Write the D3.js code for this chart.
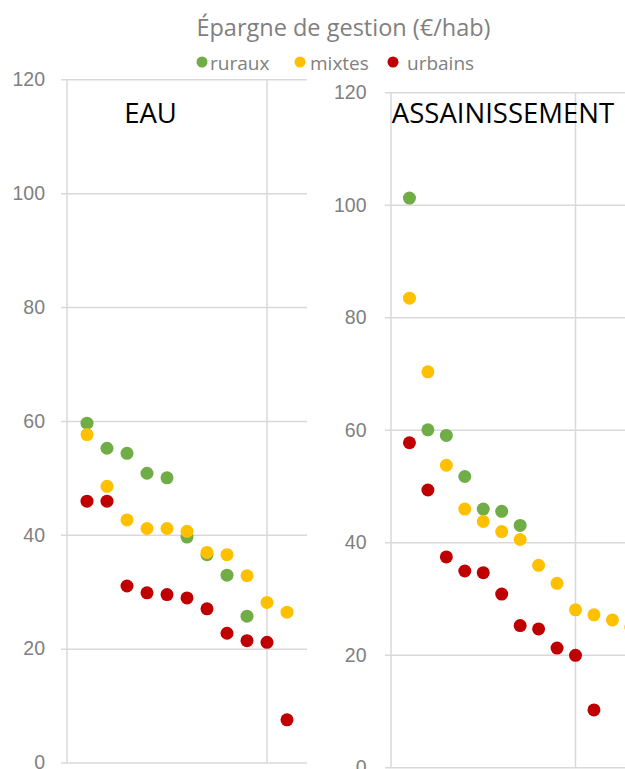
<!DOCTYPE html>
<html>
<head>
<meta charset="utf-8">
<script src="https://cdn.jsdelivr.net/npm/d3@7"></script>
<style>
    body { margin: 0; background: #fff; }
    svg { display: block; font-family: "Open Sans", sans-serif; }
    .grid line, .domain { stroke: #d9d9d9; stroke-width: 1.5; }
    .tick text { fill: #808080; font-size: 19.5px; }
</style>
</head>
<body>
<svg id="chart" width="625" height="769"></svg>
<script>
/* ---------------------------- DATA ---------------------------- */

let chartTitle = "Épargne de gestion (€/hab)"
let seriesNames = ["ruraux", "mixtes", "urbains"]
let seriesColors = ["#70ad47", "#ffc000", "#c00000"]
let yTicks = [0, 20, 40, 60, 80, 100, 120]
let xGrid = [0, 10]

// EAU - valeurs, rang 1..n
let eauRuraux = [59.6, 55.2, 54.3, 50.8, 50.0, 39.6, 36.5, 32.9, 25.7]
let eauMixtes = [57.6, 48.5, 42.6, 41.1, 41.1, 40.6, 36.9, 36.5, 32.8, 28.1, 26.4]
let eauUrbains = [45.9, 45.9, 31.0, 29.8, 29.5, 28.9, 27.0, 22.7, 21.4, 21.1, 7.5]

// ASSAINISSEMENT
let assRuraux = [101.2, 60.0, 59.0, 51.7, 45.9, 45.5, 43.0]
let assMixtes = [83.4, 70.3, 53.7, 45.9, 43.7, 41.9, 40.5, 35.9, 32.7, 28.0, 27.1, 26.2, 24.9]
let assUrbains = [57.7, 49.3, 37.4, 34.9, 34.6, 30.8, 25.2, 24.6, 21.2, 19.9, 10.2]

/* ---------------------------- LAYOUT ---------------------------- */

let svg = d3.select("#chart")

let panels = [
    { name: "EAU", series: [eauRuraux, eauMixtes, eauUrbains], xMax: 12,
      left: 67, right: 307, top: 79.3, bottom: 762.5, labelPad: 22, titleX: 150.5 },
    { name: "ASSAINISSEMENT", series: [assRuraux, assMixtes, assUrbains], xMax: 14,
      left: 391, right: 649.3, top: 92.3, bottom: 767.3, labelPad: 24.5, titleX: 503 }
]

function drawPanel(p) {
    let x = d3.scaleLinear().domain([0, p.xMax]).range([p.left, p.right])
    let y = d3.scaleLinear().domain([0, 120]).range([p.bottom, p.top])
    let w = p.right - p.left

    let g = svg.append('g')

    // lignes horizontales + étiquettes
    let yAxis = g.append('g')
        .attr('class', 'grid')
        .attr('transform', `translate(${p.left},0)`)
        .call(d3.axisLeft(y).tickValues(yTicks).tickSize(0).tickPadding(p.labelPad))
    yAxis.select('.domain').remove()
    yAxis.selectAll('.tick line').attr('x1', -6).attr('x2', w)

    // lignes verticales
    g.append('g')
        .attr('class', 'grid')
        .selectAll('line')
        .data(xGrid)
        .enter()
            .append('line')
            .attr('x1', d => x(d)).attr('x2', d => x(d))
            .attr('y1', p.top).attr('y2', p.bottom)

    g.append('text')
        .attr('x', p.titleX).attr('y', 123)
        .attr('text-anchor', 'middle')
        .attr('font-size', 27.5)
        .attr('fill', '#000')
        .text(p.name)

    p.series.forEach(function (vals, si) {
        g.append('g')
            .selectAll('circle')
            .data(vals)
            .enter()
                .append('circle')
                .attr('cx', (d, i) => x(i + 1))
                .attr('cy', d => y(d))
                .attr('r', 6.5)
                .attr('fill', seriesColors[si])
    })
}

panels.forEach(drawPanel)

/* ---------------------------- TITRE + LEGENDE ---------------------------- */

svg.append('text')
    .attr('x', 343.5).attr('y', 36)
    .attr('text-anchor', 'middle')
    .attr('font-size', 23.5)
    .attr('fill', '#808080')
    .text(chartTitle)

let legendDotX = [202, 300, 393]
let legendTextX = [210, 310, 407]
let legend = svg.append('g')
    .selectAll('g')
    .data(seriesNames)
    .enter()
        .append('g')

legend.append('circle')
    .attr('cx', (d, i) => legendDotX[i]).attr('cy', 62)
    .attr('r', 5.5)
    .attr('fill', (d, i) => seriesColors[i])

legend.append('text')
    .attr('x', (d, i) => legendTextX[i]).attr('y', 69.5)
    .attr('font-size', 19)
    .attr('fill', '#808080')
    .text(d => d)
</script>
</body>
</html>
